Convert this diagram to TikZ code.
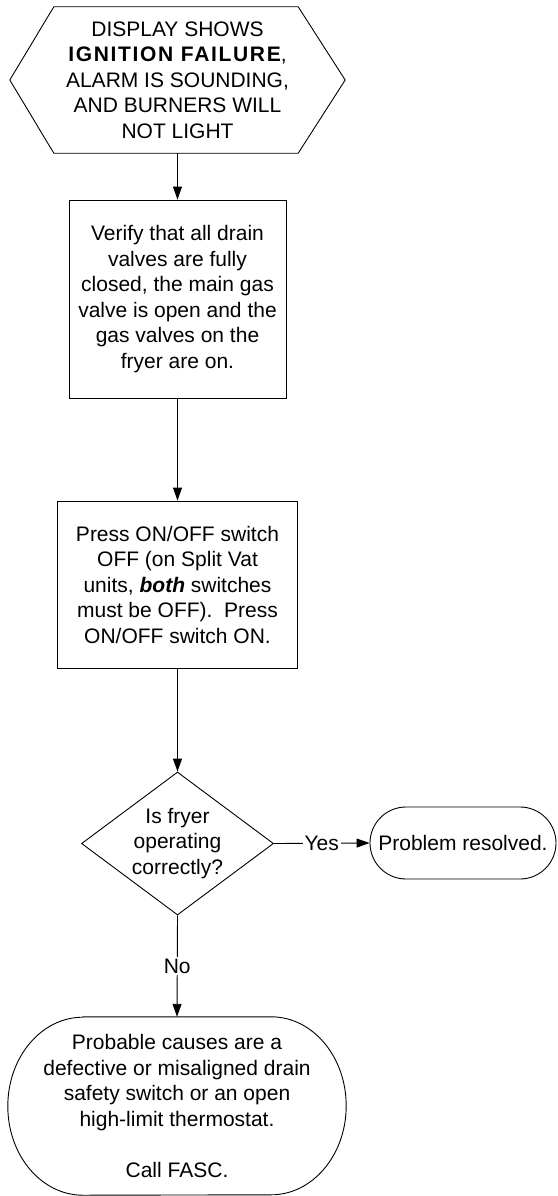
\documentclass[tikz,border=0pt]{standalone}
\usepackage{fontspec}
\setmainfont{Liberation Sans}
\usetikzlibrary{shapes.geometric,shapes.misc,arrows.meta}
\begin{document}
\begin{tikzpicture}[x=1pt,y=1pt,
  every node/.style={font=\fontsize{21}{25.5}\selectfont, align=center, inner sep=0pt},
  line/.style={line width=0.9pt, black},
  arr/.style={line, -{Triangle[length=13pt,width=9pt]}},
  stepbox/.style={draw, line width=0.9pt, rectangle},
  lbl/.style={fill=white, inner sep=2pt}
]
\useasboundingbox (0,0) rectangle (557,-1196);

% start hexagon
\node (hex) [minimum width=335pt, minimum height=146pt] at (177.5,-80)
  {DISPLAY SHOWS\\{\bfseries\addfontfeatures{LetterSpace=8}IGNITION FAILURE},\\ALARM IS SOUNDING,\\AND BURNERS WILL\\NOT LIGHT};
\draw[line] (hex.west) -- ([xshift=44pt]hex.north west) -- ([xshift=-47pt]hex.north east)
  -- (hex.east) -- ([xshift=-47pt]hex.south east) -- ([xshift=44pt]hex.south west) -- cycle;

% box 1
\node (b1) [stepbox, minimum width=217pt, minimum height=198pt] at (177.5,-299)
  {Verify that all drain\\valves are fully\\closed, the main gas\\valve is open and the\\gas valves on the\\fryer are on.};

% box 2
\node (b2) [stepbox, minimum width=240pt, minimum height=167pt] at (177.5,-584.5)
  {Press ON/OFF switch\\OFF (on Split Vat\\units, \textbf{\textit{both}} switches\\must be OFF).\ \ Press\\ON/OFF switch ON.};

% decision
\node (dia) [diamond, draw, line width=0.9pt, minimum width=192pt, minimum height=143pt] at (177.5,-843.5) {};
\node (diatext) at (dia.center) {Is fryer\\operating\\correctly?};

% resolved
\node (res) [rounded rectangle, draw, line width=0.9pt, minimum width=186pt, minimum height=72pt] at (463,-843)
  {Problem resolved.};

% causes terminal
\node (causes) [minimum width=338pt, minimum height=178pt] at (177,-1106)
  {Probable causes are a\\defective or misaligned drain\\safety switch or an open\\high-limit thermostat.\\[25.5pt]Call FASC.};
\draw[line] ([xshift=75pt]causes.north west) -- ([xshift=-75pt]causes.north east)
  arc[start angle=90, end angle=-90, x radius=75pt, y radius=89pt]
  -- ([xshift=75pt]causes.south west)
  arc[start angle=270, end angle=90, x radius=75pt, y radius=89pt] -- cycle;

% connectors
\draw[arr] (hex.south) -- (b1.north);
\draw[arr] (b1.south) -- (b2.north);
\draw[arr] (b2.south) -- (dia.north);
\draw[arr] (dia.east) -- node[lbl]{Yes} (res.west);
\draw[arr] (dia.south) -- node[lbl]{No} (causes.north);
\end{tikzpicture}
\end{document}
